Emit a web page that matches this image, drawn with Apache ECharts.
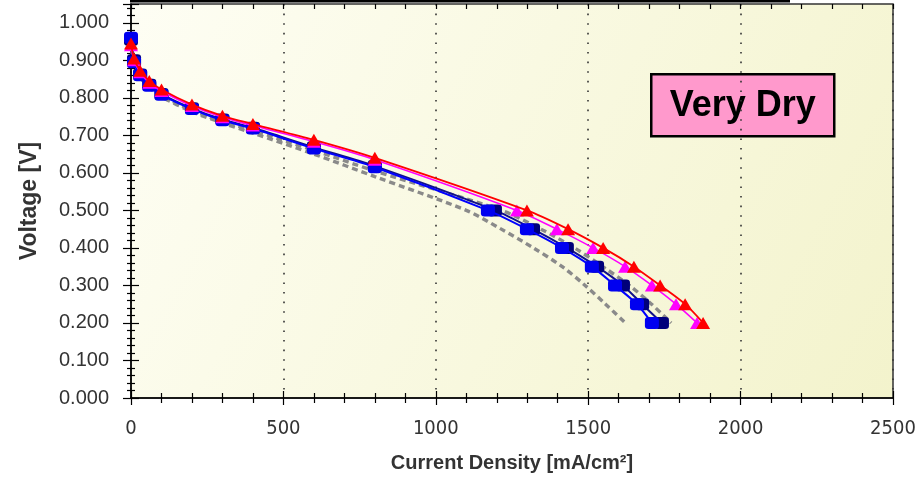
<!DOCTYPE html>
<html>
<head>
<meta charset="utf-8">
<script src="https://cdn.jsdelivr.net/npm/echarts@6/dist/echarts.min.js"></script>
<style>
html,body{margin:0;padding:0;background:#ffffff;}
#chart{width:922px;height:478px;}
</style>
</head>
<body>
<div id="chart"></div>
<script>
// ---- data ----
const xTickLabels = ['0', '500', '1000', '1500', '2000', '2500'];
const yTickLabels = ['0.000','0.100','0.200','0.300','0.400','0.500','0.600','0.700','0.800','0.900','1.000'];

const grayACurrent = [0, 10, 30, 60, 100, 200, 300, 400, 600, 800, 1100, 1215, 1320, 1415, 1490, 1557, 1622];
const grayAVoltage = [0.950, 0.890, 0.855, 0.828, 0.803, 0.763, 0.733, 0.706, 0.650, 0.590, 0.500, 0.450, 0.400, 0.350, 0.300, 0.250, 0.200];

const grayBCurrent = [0, 10, 30, 60, 100, 200, 300, 400, 600, 800, 1215, 1345, 1455, 1548, 1635, 1708, 1772];
const grayBVoltage = [0.955, 0.895, 0.858, 0.830, 0.806, 0.767, 0.737, 0.713, 0.660, 0.605, 0.500, 0.450, 0.400, 0.350, 0.300, 0.250, 0.200];

const navyCurrent = [0, 10, 30, 60, 100, 200, 300, 400, 600, 800, 1194, 1319, 1430, 1529, 1614, 1677, 1742];
const navyVoltage = [0.955, 0.900, 0.862, 0.835, 0.810, 0.772, 0.742, 0.720, 0.668, 0.618, 0.500, 0.450, 0.400, 0.350, 0.300, 0.250, 0.200];

const blueCurrent = [0, 10, 30, 60, 100, 200, 300, 400, 600, 800, 1171, 1299, 1414, 1512, 1588, 1660, 1709];
const blueVoltage = [0.960, 0.895, 0.860, 0.832, 0.808, 0.770, 0.740, 0.718, 0.665, 0.615, 0.500, 0.450, 0.400, 0.350, 0.300, 0.250, 0.200];

const magentaCurrent = [0, 10, 30, 60, 100, 200, 300, 400, 600, 800, 1266, 1397, 1516, 1621, 1709, 1788, 1857];
const magentaVoltage = [0.940, 0.900, 0.868, 0.840, 0.818, 0.778, 0.748, 0.726, 0.683, 0.635, 0.500, 0.450, 0.400, 0.350, 0.300, 0.250, 0.200];

const redCurrent = [0, 10, 30, 60, 100, 200, 300, 400, 600, 800, 1299, 1434, 1549, 1650, 1736, 1818, 1877];
const redVoltage = [0.945, 0.905, 0.872, 0.845, 0.822, 0.782, 0.752, 0.730, 0.688, 0.640, 0.500, 0.450, 0.400, 0.350, 0.300, 0.250, 0.200];

const boxLabel = 'Very Dry';
const xName = 'Current Density [mA/cm²]';
const yName = 'Voltage [V]';

function pairs(xs, ys) { return xs.map((x, i) => [x, ys[i]]); }

// ---- chart ----
const chart = echarts.init(document.getElementById('chart'), null, {renderer: 'canvas'});
const tickColor = '#000';
const Y_MAX = 1.05;

function yFmt(v) {
  const k = Math.round(v * 10);
  if (Math.abs(v * 10 - k) > 1e-6 || k < 0 || k >= yTickLabels.length) return '';
  return yTickLabels[k];
}
function xFmt(v) {
  const k = Math.round(v / 500);
  if (Math.abs(v / 500 - k) > 1e-6 || k < 0 || k >= xTickLabels.length) return '';
  return xTickLabels[k];
}

const option = {
  backgroundColor: '#ffffff',
  animation: false,
  grid: {
    left: 131, right: 29, top: 4, bottom: 77,
    show: true,
    borderColor: '#333',
    borderWidth: 1.5,
    backgroundColor: {
      type: 'linear', x: 0, y: 0, x2: 1, y2: 1,
      colorStops: [{offset: 0, color: '#fefef4'}, {offset: 1, color: '#f3f3cc'}]
    }
  },
  xAxis: [
    {
      type: 'value', min: 0, max: 2500, interval: 500, position: 'bottom',
      name: xName, nameLocation: 'middle', nameGap: 55,
      nameTextStyle: {fontFamily: 'Liberation Sans', fontWeight: 'bold', fontSize: 20, color: '#333'},
      axisLine: {show: true, lineStyle: {color: tickColor, width: 1.5}},
      axisTick: {show: true, inside: false, length: 7, lineStyle: {color: tickColor, width: 1.2}},
      minorTick: {show: true, splitNumber: 5, length: 5, lineStyle: {color: tickColor, width: 1.2}},
      axisLabel: {margin: 21, formatter: xFmt, fontFamily: 'Liberation Sans Narrow, DejaVu Sans Condensed, sans-serif', fontSize: 20, color: '#333'},
      splitLine: {show: true, lineStyle: {color: '#333', width: 1.6, type: [1.6, 8]}},
      minorSplitLine: {show: false}
    },
    {
      type: 'value', min: 0, max: 2500, interval: 500, position: 'bottom', offset: 0,
      axisLine: {show: false},
      axisTick: {show: true, inside: true, length: 7, lineStyle: {color: tickColor, width: 1.2}},
      minorTick: {show: true, splitNumber: 5, length: 5, lineStyle: {color: tickColor, width: 1.2}},
      axisLabel: {show: false},
      splitLine: {show: false}
    },
    {
      type: 'value', min: 0, max: 2500, interval: 100, position: 'top',
      axisLine: {show: false},
      axisTick: {show: true, inside: true, length: 5, lineStyle: {color: tickColor, width: 1.2}},
      axisLabel: {show: false},
      splitLine: {show: false}
    }
  ],
  yAxis: [
    {
      type: 'value', min: 0, max: Y_MAX, interval: 0.1, position: 'left',
      name: yName, nameLocation: 'middle', nameGap: 90, nameRotate: 90,
      nameTextStyle: {fontFamily: 'Liberation Sans', fontWeight: 'bold', fontSize: 23, color: '#333'},
      axisLine: {show: true, lineStyle: {color: tickColor, width: 1.5}},
      axisTick: {show: true, inside: false, length: 8, lineStyle: {color: tickColor, width: 1.2}},
      minorTick: {show: true, splitNumber: 5, length: 4, lineStyle: {color: tickColor, width: 1.2}},
      axisLabel: {margin: 22, formatter: yFmt, showMaxLabel: false, fontFamily: 'Liberation Sans', fontSize: 20, color: '#333'},
      splitLine: {show: false}
    },
    {
      type: 'value', min: 0, max: Y_MAX, interval: 0.1, position: 'left', offset: 0,
      axisLine: {show: false},
      axisTick: {show: true, inside: true, length: 8, lineStyle: {color: tickColor, width: 1.2}},
      minorTick: {show: true, splitNumber: 5, length: 4, lineStyle: {color: tickColor, width: 1.2}},
      axisLabel: {show: false},
      splitLine: {show: false}
    }
  ],
  graphic: [
    {type: 'rect', left: 130, top: 0, shape: {width: 660, height: 2.5}, style: {fill: '#000'}, z: 100},
    {
      type: 'group', left: 650, top: 73, z: 100,
      children: [
        {type: 'rect', shape: {x: 0, y: 0, width: 183, height: 62}, style: {fill: '#ff99cc', stroke: '#000', lineWidth: 2.5}},
        {type: 'text', x: 91.5, y: 32, style: {text: boxLabel, fill: '#000', font: 'bold 36px "Liberation Sans", Arial, sans-serif', textAlign: 'center', textVerticalAlign: 'middle'}}
      ]
    }
  ],
  series: [
    {
      name: 'grayA', type: 'line', data: pairs(grayACurrent, grayAVoltage), smooth: 0.3,
      showSymbol: false, symbol: 'none',
      lineStyle: {color: '#8a8a8a', width: 3.4, type: [6, 4]}, z: 2
    },
    {
      name: 'grayB', type: 'line', data: pairs(grayBCurrent, grayBVoltage), smooth: 0.3,
      showSymbol: false, symbol: 'none',
      lineStyle: {color: '#8a8a8a', width: 3.4, type: [6, 4]}, z: 2
    },
    {
      name: 'navy', type: 'line', data: pairs(navyCurrent, navyVoltage), smooth: 0.3,
      symbol: 'roundRect', symbolSize: [14, 12], showAllSymbol: true,
      itemStyle: {color: '#00007a'},
      lineStyle: {color: '#10108a', width: 2}, z: 3
    },
    {
      name: 'blue', type: 'line', data: pairs(blueCurrent, blueVoltage), smooth: 0.3,
      symbol: 'roundRect', symbolSize: [14, 12], showAllSymbol: true,
      itemStyle: {color: '#0000f0'},
      lineStyle: {color: '#0000ff', width: 2}, z: 4
    },
    {
      name: 'magenta', type: 'line', data: pairs(magentaCurrent, magentaVoltage), smooth: 0.3,
      symbol: 'triangle', symbolSize: [14, 12], showAllSymbol: true,
      itemStyle: {color: '#ff00ff'},
      lineStyle: {color: '#ff00ff', width: 1.6}, z: 5
    },
    {
      name: 'red', type: 'line', data: pairs(redCurrent, redVoltage), smooth: 0.3,
      symbol: 'triangle', symbolSize: [14, 12], showAllSymbol: true,
      itemStyle: {color: '#ff0000'},
      lineStyle: {color: '#ff0000', width: 1.8}, z: 6
    }
  ]
};
chart.setOption(option);
</script>
</body>
</html>
